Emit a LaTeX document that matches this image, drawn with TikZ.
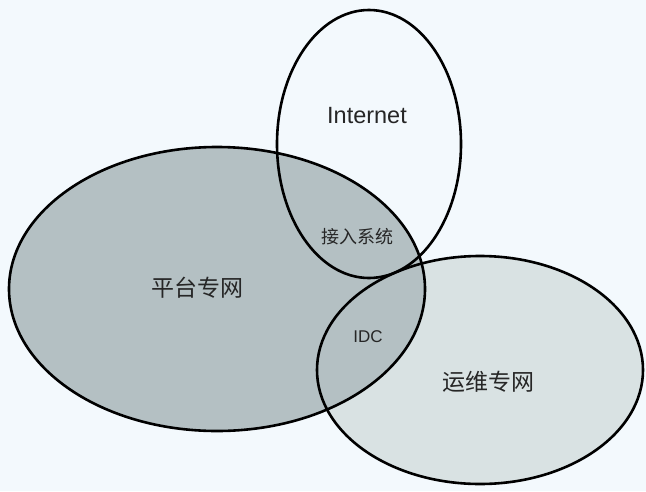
\documentclass[tikz,border=0pt]{standalone}
\usepackage{fontspec}
\setmainfont{Liberation Sans}
\newfontfamily\cjk{Noto Sans CJK SC}
\definecolor{bgblue}{HTML}{F3F9FD}
\definecolor{netgray}{HTML}{B4C0C3}
\definecolor{opsgray}{HTML}{D9E2E3}
\tikzset{
  ring/.style={draw=black, line width=2.6pt},
  lbl/.style={inner sep=0pt, text=black!85},
}
\begin{document}
\begin{tikzpicture}[x=1pt, y=-1pt]
    \useasboundingbox (0, 0) rectangle (646, 491);
    \fill[bgblue] (0, 0) rectangle (646, 491);

    % fills
    \fill[opsgray] (480, 370) ellipse (163pt and 114pt);
    \fill[netgray] (217, 289) ellipse (208pt and 142pt);

    % outlines
    \draw[ring] (217, 289) ellipse (208pt and 142pt);
    \draw[ring] (369, 144) ellipse (92pt and 134pt);
    \draw[ring] (480, 370) ellipse (163pt and 114pt);

    \node[lbl, font=\fontsize{23.5}{26}\selectfont] (inet) at (367, 116) {Internet};
    \node[lbl, font=\cjk\fontsize{18}{20}\selectfont] (access) at (357, 237) {接入系统};
    \node[lbl, font=\fontsize{17}{20}\selectfont] (idc) at (368, 337) {IDC};
    \node[lbl, font=\cjk\fontsize{23}{26}\selectfont] (plat) at (197, 288) {平台专网};
    \node[lbl, font=\cjk\fontsize{23}{26}\selectfont] (ops) at (488, 382) {运维专网};
  \end{tikzpicture}
\end{document}
